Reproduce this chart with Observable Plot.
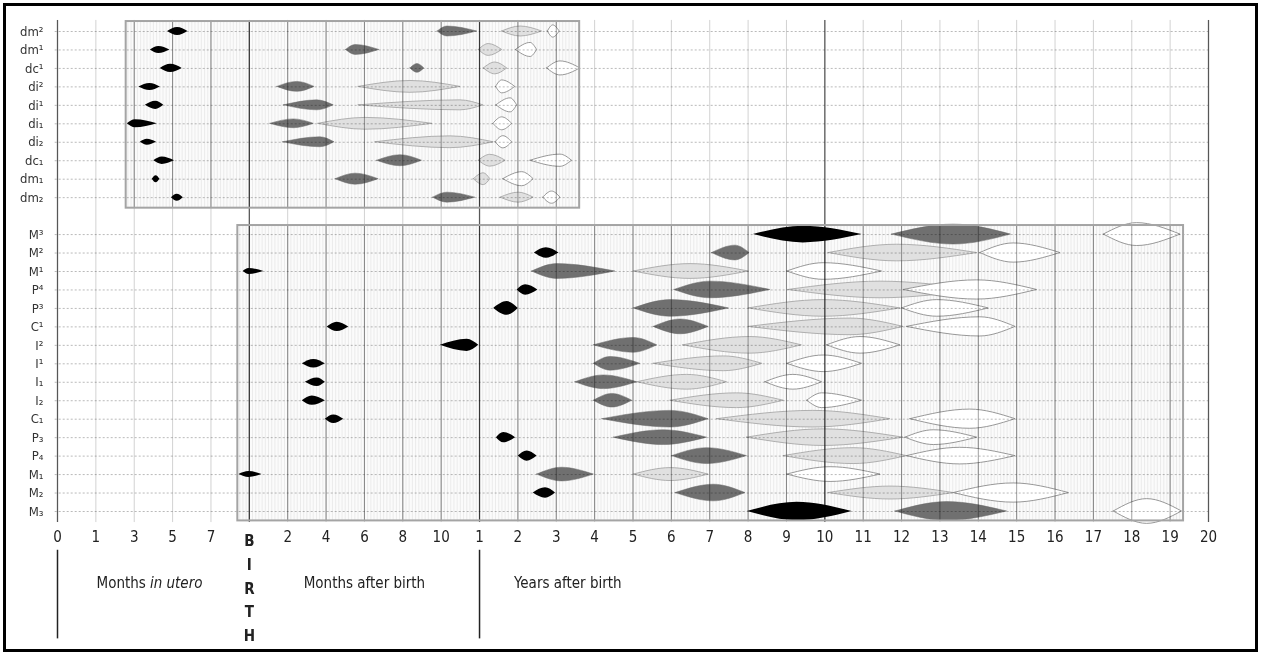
<!DOCTYPE html>
<html><head><meta charset="utf-8">
<script src="https://cdn.jsdelivr.net/npm/d3@7"></script>
<script src="https://cdn.jsdelivr.net/npm/@observablehq/plot@0.6"></script>
<style>
html,body{margin:0;padding:0;background:#fff;}
#wrap{position:relative;width:1261px;height:655px;overflow:hidden;}
#border{position:absolute;left:3px;top:3px;width:1249px;height:643px;border:3px solid #000;pointer-events:none;}
#wrap svg{font-family:"Liberation Sans Narrow","DejaVu Sans Condensed","Liberation Sans",sans-serif;}
</style></head><body><div id="wrap"><div id="border"></div></div>
<script>
// Tooth rows (top: deciduous, "" = gap, bottom: permanent)
const teeth = ["dm²","dm¹","dc¹","di²","di¹","di₁","di₂","dc₁","dm₁","dm₂","",
  "M³","M²","M¹","P⁴","P³","C¹","I²","I¹","I₁","I₂","C₁","P₃","P₄","M₁","M₂","M₃"];
// Axis tick labels (months in utero | months after birth | years after birth)
const tickLabels = ["0","1","3","5","7","B","2","4","6","8","10",
  "1","2","3","4","5","6","7","8","9","10","11","12","13","14","15","16","17","18","19","20"];
// Each stage: [tooth, start, peak, end, half-thickness] in axis-position units
const stageBlack = [
  ["dm²",2.87,3.13,3.40,0.22],["dm¹",2.42,2.64,2.93,0.19],["dc¹",2.68,2.95,3.25,0.22],
  ["di²",2.12,2.41,2.68,0.19],["di¹",2.29,2.56,2.77,0.22],["di₁",1.82,2.03,2.60,0.22],
  ["di₂",2.16,2.34,2.58,0.16],["dc₁",2.51,2.73,3.05,0.20],["dm₁",2.47,2.57,2.67,0.19],
  ["dm₂",2.97,3.12,3.28,0.19],
  ["M³",18.14,19.44,20.97,0.45],["M²",12.43,12.74,13.07,0.28],["M¹",4.84,4.99,5.38,0.16],
  ["P⁴",11.98,12.20,12.52,0.28],["P³",11.37,11.72,12.01,0.37],["C¹",7.03,7.29,7.59,0.25],
  ["I²",9.98,10.68,10.98,0.33],["I¹",6.38,6.68,6.98,0.23],["I₁",6.46,6.77,6.98,0.23],
  ["I₂",6.38,6.64,6.98,0.25],["C₁",6.98,7.20,7.46,0.23],["P₃",11.44,11.63,11.94,0.28],
  ["P₄",12.01,12.24,12.50,0.28],["M₁",4.73,4.99,5.33,0.16],["M₂",12.40,12.72,12.98,0.28],
  ["M₃",17.98,19.28,20.71,0.5]
];
const stageDark = [
  ["dm²",9.91,10.16,10.94,0.27],["dm¹",7.52,7.77,8.39,0.27],["dc¹",9.20,9.38,9.56,0.24],
  ["di²",5.73,6.25,6.70,0.27],["di¹",5.90,6.77,7.20,0.27],["di₁",5.55,6.16,6.68,0.24],
  ["di₂",5.88,6.85,7.22,0.27],["dc₁",8.33,8.94,9.50,0.30],["dm₁",7.25,7.77,8.37,0.30],
  ["dm₂",9.79,10.16,10.89,0.27],
  ["M³",21.75,23.36,24.85,0.54],["M²",17.06,17.67,18.04,0.4],["M¹",12.37,13.02,14.54,0.4],
  ["P⁴",16.08,17.02,18.58,0.45],["P³",15.02,15.98,17.50,0.45],["C¹",15.54,16.24,16.97,0.4],
  ["I²",13.98,15.02,15.63,0.4],["I¹",13.98,14.41,15.19,0.37],["I₁",13.50,14.24,15.11,0.37],
  ["I₂",13.98,14.46,14.98,0.37],["C₁",14.20,15.98,16.97,0.45],["P₃",14.50,15.80,16.93,0.4],
  ["P₄",16.02,16.93,17.97,0.43],["M₁",12.50,13.15,13.98,0.37],["M₂",16.11,17.11,17.93,0.45],
  ["M₃",21.84,23.19,24.75,0.51]
];
const stageLight = [
  ["dm²",11.59,12.07,12.63,0.27],["dm¹",10.98,11.24,11.59,0.32],["dc¹",11.11,11.41,11.72,0.32],
  ["di²",7.85,9.20,10.50,0.32],["di¹",7.85,10.50,11.10,0.27],["di₁",6.80,8.03,9.77,0.32],
  ["di₂",8.29,10.24,11.37,0.32],["dc₁",10.98,11.28,11.68,0.32],["dm₁",10.85,11.11,11.28,0.32],
  ["dm₂",11.55,12.02,12.41,0.27],
  ["M²",20.10,21.88,23.97,0.45],["M¹",15.02,16.50,18.02,0.4],["P⁴",19.05,21.45,23.97,0.45],
  ["P³",18.02,19.97,21.97,0.45],["C¹",18.02,20.67,22.05,0.45],["I²",16.31,18.05,19.40,0.45],
  ["I¹",15.54,17.37,18.37,0.4],["I₁",15.11,16.41,17.45,0.4],["I₂",15.98,17.71,18.93,0.4],
  ["C₁",17.19,19.70,21.71,0.45],["P₃",17.97,19.97,22.05,0.45],["P₄",18.93,20.75,22.14,0.43],
  ["M₁",15.02,15.98,16.97,0.35],["M₂",20.10,21.71,23.36,0.35]
];
const stageWhite = [
  ["dm²",12.78,12.92,13.09,0.33],["dm¹",11.95,12.33,12.50,0.38],["dc¹",12.76,13.11,13.63,0.38],
  ["di²",11.43,11.59,11.93,0.35],["di¹",11.44,11.81,11.98,0.38],["di₁",11.36,11.59,11.85,0.35],
  ["di₂",11.42,11.62,11.85,0.33],["dc₁",12.33,13.11,13.41,0.33],["dm₁",11.62,12.11,12.41,0.38],
  ["dm₂",12.66,12.89,13.11,0.33],
  ["M³",27.27,28.14,29.27,0.62],["M²",24.05,24.92,26.14,0.52],["M¹",19.02,19.97,21.49,0.45],
  ["P⁴",22.06,23.97,25.53,0.52],["P³",22.01,22.93,24.27,0.45],["C¹",22.14,24.05,24.97,0.52],
  ["I²",20.06,20.93,21.97,0.45],["I¹",19.02,19.97,20.97,0.45],["I₁",18.45,19.18,19.93,0.4],
  ["I₂",19.54,19.93,20.97,0.4],["C₁",22.23,23.79,24.97,0.52],["P₃",22.10,22.84,23.97,0.4],
  ["P₄",22.14,23.53,24.97,0.45],["M₁",19.02,20.15,21.45,0.4],["M₂",23.36,24.92,26.36,0.52],
  ["M₃",27.53,28.40,29.31,0.67]
];
// Panel extents (axis units)
const topBox = {x1:1.79, x2:13.61, y1:-0.54, y2:9.57};
const bottomBox = {x1:4.70, x2:29.35, y1:10.51, y2:26.51};

function shapes(stage, key) {
  const pts = [];
  stage.forEach(([t, s, p, e, h], i) => {
    const r = teeth.indexOf(t);
    const id = key + i;
    pts.push({id, x: s, y1: r, y2: r});
    pts.push({id, x: p, y1: r - h, y2: r + h});
    pts.push({id, x: e, y1: r, y2: r});
  });
  return pts;
}
const rows = teeth.map((t, i) => ({t, i})).filter(d => d.t !== "");
const ticks = tickLabels.map((t, i) => ({t, i}));
const minor = b => d3.range(Math.ceil(b.x1 * 12), Math.floor(b.x2 * 12) + 1).map(k => k / 12);
const majorIn = b => d3.range(0, 31).filter(v => v > b.x1 && v < b.x2);
const darkLines = [0, 5, 11, 20, 30];

const chart = Plot.plot({
  width: 1261, height: 655,
  marginLeft: 57, marginRight: 53, marginTop: 31, marginBottom: 144,
  x: {domain: [0, 30], axis: null},
  y: {domain: [0, 26], reverse: true, axis: null},
  marks: [
    Plot.rect([topBox, bottomBox], {x1: "x1", x2: "x2", y1: "y1", y2: "y2", fill: "#fbfbfb"}),
    Plot.ruleX(minor(topBox), {x: d => d, y1: topBox.y1, y2: topBox.y2, stroke: "#e0e0e0", strokeWidth: 0.6}),
    Plot.ruleX(minor(bottomBox), {x: d => d, y1: bottomBox.y1, y2: bottomBox.y2, stroke: "#e0e0e0", strokeWidth: 0.6}),
    Plot.ruleX(d3.range(0, 31), {x: d => d, y1: -0.6, y2: 26.6, stroke: "#d2d2d2", strokeWidth: 1}),
    Plot.areaY(shapes(stageBlack, "b"), {x: "x", y1: "y1", y2: "y2", z: "id", fill: "#000", curve: "monotone-x"}),
    Plot.areaY(shapes(stageDark, "d"), {x: "x", y1: "y1", y2: "y2", z: "id", fill: "#707070", stroke: "#666", strokeWidth: 0.5, curve: "monotone-x"}),
    Plot.areaY(shapes(stageLight, "l"), {x: "x", y1: "y1", y2: "y2", z: "id", fill: "#e0e0e0", stroke: "#a0a0a0", strokeWidth: 0.8, curve: "monotone-x"}),
    Plot.areaY(shapes(stageWhite, "w"), {x: "x", y1: "y1", y2: "y2", z: "id", fill: "#fff", stroke: "#8c8c8c", strokeWidth: 0.9, curve: "monotone-x"}),
    Plot.ruleY(rows, {y: "i", x1: -0.06, x2: 30, stroke: "#a8a8a8", strokeWidth: 0.8, strokeDasharray: "2,2", mixBlendMode: "multiply"}),
    Plot.ruleX(majorIn(topBox), {x: d => d, y1: topBox.y1, y2: topBox.y2, stroke: "#a0a0a0", strokeWidth: 1, mixBlendMode: "multiply"}),
    Plot.ruleX(majorIn(bottomBox), {x: d => d, y1: bottomBox.y1, y2: bottomBox.y2, stroke: "#a0a0a0", strokeWidth: 1, mixBlendMode: "multiply"}),
    Plot.ruleX(darkLines, {x: d => d, y1: -0.6, y2: 26.6, stroke: "#6a6a6a", strokeWidth: 1.3, mixBlendMode: "multiply"}),
    Plot.rect([topBox, bottomBox], {x1: "x1", x2: "x2", y1: "y1", y2: "y2", fill: "none", stroke: "#a4a4a4", strokeWidth: 2}),
    // y labels
    Plot.text(rows, {y: "i", text: "t", frameAnchor: "left", textAnchor: "end", dx: -14, fontSize: 13, fill: "#333"}),
    // x tick labels
    Plot.text(ticks.filter(d => d.t !== "B"), {x: "i", text: "t", frameAnchor: "bottom", dy: 30, fontSize: 15, fill: "#222"}),
    Plot.text([{i: tickLabels.indexOf("B"), t: "B\nI\nR\nT\nH"}], {x: "i", text: "t", frameAnchor: "bottom", lineAnchor: "top", dy: 18, lineHeight: 1.58, fontSize: 15, fontWeight: "bold", fill: "#222"}),
    // period annotations
    Plot.ruleX([0, 11], {x: d => d, y1: 28.1, y2: 32.9, stroke: "#222", strokeWidth: 1.5}),
    Plot.text(["Months"], {x: 2.33, frameAnchor: "bottom", textAnchor: "end", dx: -1, dy: 76, fontSize: 15, fill: "#222"}),
    Plot.text(["in utero"], {x: 2.33, frameAnchor: "bottom", textAnchor: "start", dx: 3, dy: 76, fontSize: 15, fontStyle: "italic", fill: "#222"}),
    Plot.text(["Months after birth"], {x: 8.0, frameAnchor: "bottom", dy: 76, fontSize: 15, fill: "#222"}),
    Plot.text(["Years after birth"], {x: 11.9, frameAnchor: "bottom", textAnchor: "start", dy: 76, fontSize: 15, fill: "#222"})
  ]
});
document.getElementById("wrap").prepend(chart);
</script></body></html>
